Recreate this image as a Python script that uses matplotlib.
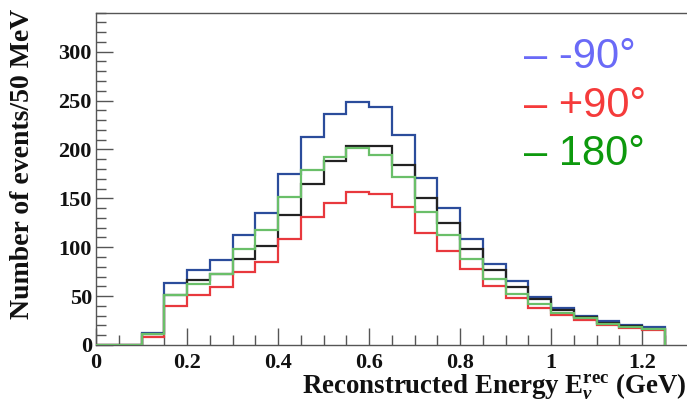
import numpy as np
import matplotlib
matplotlib.use("Agg")
import matplotlib.pyplot as plt
from matplotlib.ticker import MultipleLocator

plt.rcParams['mathtext.fontset'] = 'custom'
plt.rcParams['mathtext.rm'] = 'Liberation Serif:bold'
plt.rcParams['mathtext.bf'] = 'Liberation Serif:bold'
plt.rcParams['mathtext.it'] = 'Liberation Serif:bold:italic'

# Bin edges (GeV), 50 MeV bins
bin_edges = [round(0.05 * i, 2) for i in range(26)]

# Events per bin
minus90 = [0, 0, 12, 63, 77, 86.5, 112, 134.6, 174.7, 212.6, 235.7, 248.5, 243,
           215, 171, 139.7, 108.5, 83, 65, 49, 38, 29.8, 24.4, 20, 18]
nominal = [0, 0, 11, 51, 66, 73, 88, 101.7, 133, 165, 188, 203.5, 203.5,
           184, 150, 124.4, 98.4, 76.3, 59.3, 46.8, 36.3, 28.8, 23, 19.3, 16]
plus90 = [0, 0, 8.5, 40, 51, 59, 74.5, 84.7, 108.5, 131, 145, 156, 154.3,
          141, 115, 96.6, 77.3, 60.7, 48.5, 38.3, 30.5, 25.4, 20.3, 17, 15.3]
deg180 = [0, 0, 11, 51, 62, 73, 98, 118, 151, 178.7, 192, 201.7, 194.3,
          172, 136.3, 112, 87.5, 67.5, 52.6, 42.4, 33.2, 27.5, 21.4, 18, 16]

legend_labels = ["-90°", "+90°", "180°"]
legend_colors = ["#6a6af7", "#f53b3b", "#0d990d"]

W, H = 687, 403
fig = plt.figure(figsize=(W / 100, H / 100), dpi=100)
left = 96 / W
bottom = 1 - 345 / H
top = 1 - 12.5 / H
xmax = 1.32
width = xmax * 455 / W
ax = fig.add_axes([left, bottom, width, top - bottom])

edges = np.array(bin_edges)
lw = 1.6
ax.stairs(minus90, edges, baseline=0, color="#2b4c9b", lw=lw, zorder=2)
ax.stairs(nominal, edges, baseline=0, color="#222222", lw=lw, zorder=3)
ax.stairs(plus90, edges, baseline=0, color="#e8383d", lw=lw, zorder=4)
ax.stairs(deg180, edges, baseline=0, color="#6abf69", lw=lw, zorder=5)

ax.set_xlim(0, xmax)
ax.set_ylim(0, 340)

ax.xaxis.set_major_locator(MultipleLocator(0.2))
ax.xaxis.set_minor_locator(MultipleLocator(0.05))
ax.yaxis.set_major_locator(MultipleLocator(50))
ax.yaxis.set_minor_locator(MultipleLocator(10))

def fmt(v, pos):
    return f"{v:g}"
ax.xaxis.set_major_formatter(plt.FuncFormatter(fmt))

for s in ["top", "bottom", "left"]:
    ax.spines[s].set_color("#555555")
    ax.spines[s].set_linewidth(1.0)
ax.spines["right"].set_visible(False)

ax.tick_params(axis="both", which="major", direction="in", length=12, width=1.0,
               color="#555555", top=False, right=False)
ax.tick_params(axis="both", which="minor", direction="in", length=7, width=1.0,
               color="#555555", top=False, right=False)
ax.tick_params(axis="x", which="major", pad=6)
ax.tick_params(axis="y", which="major", pad=3)
for lab in ax.get_xticklabels() + ax.get_yticklabels():
    lab.set_fontfamily("Liberation Serif")
    lab.set_fontweight("bold")
    lab.set_fontsize(16)
    lab.set_color("#111111")

# Axis titles
fig.text(23 / W, 1 - 164 / H, "Number of events/50 MeV", rotation=90,
         ha="center", va="center", family="Liberation Serif", weight="bold",
         fontsize=20, color="#111111")
fig.text(686 / W, 1 - 394 / H,
         r"Reconstructed Energy $\mathbf{E}_{\nu}^{\mathbf{rec}}$ (GeV)",
         ha="right", va="baseline", family="Liberation Serif", weight="bold",
         fontsize=19.4, color="#111111")

# Legend text
baselines = [68.3, 116.7, 165]
for lab, col, b in zip(legend_labels, legend_colors, baselines):
    fig.text(524 / W, 1 - b / H, "– " + lab, ha="left", va="baseline",
             family="Liberation Sans", fontsize=30, color=col)

fig.savefig("out.png", dpi=100)
